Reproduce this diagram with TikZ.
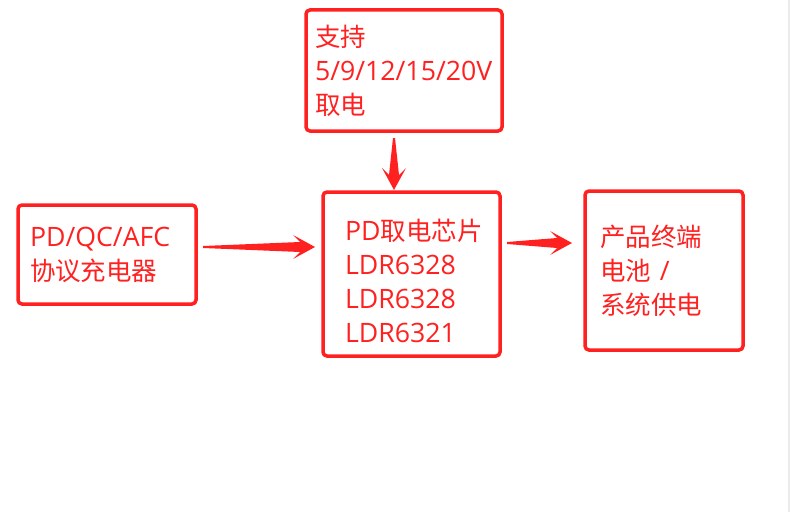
\documentclass[tikz,border=0pt]{standalone}
\usepackage{fontspec}
\setmainfont{Open Sans}
\newfontfamily\cjk{Noto Sans CJK SC}[Scale=0.955]
\usepackage{tikz}
\usetikzlibrary{calc}
\definecolor{rojo}{HTML}{FF2020}
\definecolor{borde}{HTML}{EBEBEB}

% flecha afilada: cola fina, punta ancha
\newcommand\flechafina[2]{%
  \path ($(#2)!22pt!(#1)$) coordinate (fb) ($(#2)!15pt!(#1)$) coordinate (fj);
  \fill[rojo] ($(#1)!1pt!90:(#2)$) -- ($(fj)!5pt!90:(#2)$) -- ($(fb)!12pt!90:(#2)$) -- (#2)
    -- ($(fb)!12pt!-90:(#2)$) -- ($(fj)!5pt!-90:(#2)$) -- ($(#1)!1pt!-90:(#2)$) -- cycle;}

\begin{document}
\begin{tikzpicture}[
  x=1pt, y=-1pt,
  caja/.style={draw=rojo, line width=3.5pt, rounded corners=4pt, text=rojo, align=left, font=\fontsize{26.7}{34}\selectfont}
]
\useasboundingbox (0,0) rectangle (791,516);
\draw[borde, line width=1.5pt] (789,0) -- (789,512);

\node[caja, text width=154pt, inner xsep=12pt, minimum height=99pt] (cargador) at (107,254.5) {PD/QC/AFC\\{\cjk 协议充电器}};
\node[caja, text width=178pt, inner xsep=9pt, minimum height=121pt] (tension) at (404,70.5) {{\cjk 支持}\\5/9/12/15/20V\\{\cjk 取电}};
\node[caja, text width=133pt, inner xsep=22pt, minimum height=164pt] (chip) at (411.5,274) {\rule{0pt}{36pt}PD{\cjk 取电芯片}\\LDR6328\\LDR6328\\LDR6321};
\node[caja, text width=128pt, inner xsep=15pt, minimum height=159pt] (salida) at (664,270.5) {{\cjk 产品终端}\\{\cjk 电池} /\\{\cjk 系统供电}};

\coordinate (a1) at (203,247);
\coordinate (a2) at (315,247);
\coordinate (b1) at (394,138);
\coordinate (b2) at (394,190);
\coordinate (c1) at (507,243);
\coordinate (c2) at (572,243);
\flechafina{a1}{a2}
\flechafina{b1}{b2}
\flechafina{c1}{c2}
\end{tikzpicture}
\end{document}
